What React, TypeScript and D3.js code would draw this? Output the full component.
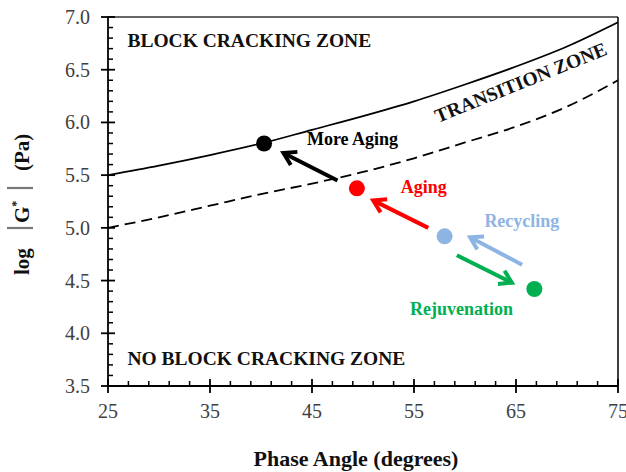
import React from "react";
import * as d3 from "d3";

const upperX = [25, 30, 35, 40, 45, 50, 55, 60, 65, 70, 75];
const upperY = [5.5, 5.59, 5.69, 5.8, 5.93, 6.06, 6.2, 6.36, 6.53, 6.72, 6.95];
const lowerX = [25, 30, 35, 40, 45, 50, 55, 60, 65, 70, 75];
const lowerY = [5.0, 5.1, 5.21, 5.32, 5.42, 5.53, 5.66, 5.81, 5.96, 6.15, 6.4];

const pointNames = ["More Aging", "Aging", "Recycling", "Rejuvenation"];
const pointX = [40.3, 49.4, 58.0, 66.8];
const pointY = [5.8, 5.375, 4.92, 4.42];
const pointColors = ["#000000", "#FF0000", "#8EB4E3", "#00B050"];

const arrowX1 = [47.5, 56.4, 65.6, 59.2];
const arrowY1 = [5.45, 5.0, 4.65, 4.74];
const arrowX2 = [42.2, 51.0, 60.5, 64.6];
const arrowY2 = [5.71, 5.26, 4.91, 4.48];

const labelX = [44.5, 53.7, 61.9, 54.6];
const labelY = [5.79, 5.33, 5.01, 4.17];

const xTicks = [25, 35, 45, 55, 65, 75];
const yTicks = [3.5, 4.0, 4.5, 5.0, 5.5, 6.0, 6.5, 7.0];

const W = 626;
const H = 472;
const M = { left: 108, right: 618, top: 17, bottom: 386 };
const FONT = "'Liberation Serif', 'Times New Roman', serif";

export default function App() {
  const x = d3.scaleLinear().domain([25, 75]).range([M.left, M.right]);
  const y = d3.scaleLinear().domain([3.5, 7.0]).range([M.bottom, M.top]);
  const line = d3
    .line<[number, number]>()
    .x((d) => x(d[0]))
    .y((d) => y(d[1]))
    .curve(d3.curveMonotoneX);
  const upper = line(upperX.map((v, i) => [v, upperY[i]]) as [number, number][]) || "";
  const lower = line(lowerX.map((v, i) => [v, lowerY[i]]) as [number, number][]) || "";

  const xMinor = d3.range(25, 75.001, 2).filter((v) => !xTicks.includes(v));
  const yMinor = d3
    .range(35, 70.001, 1)
    .map((v) => v / 10)
    .filter((v) => !yTicks.some((t) => Math.abs(t - v) < 1e-6));

  const fmt = d3.format(".1f");
  const lblX = 29;

  return (
    <svg
      width={W}
      height={H}
      style={{ position: "absolute", left: 0, top: 0, background: "#fff" }}
      fontFamily={FONT}
    >
      <rect x={0} y={0} width={W} height={H} fill="#fff" />
      <defs>
        <clipPath id="plotclip">
          <rect x={M.left} y={M.top} width={M.right - M.left} height={M.bottom - M.top} />
        </clipPath>
      </defs>
      {/* frame */}
      <line x1={M.left} x2={M.right} y1={M.top} y2={M.top} stroke="#666" strokeWidth={2} />
      <line x1={M.right} x2={M.right} y1={M.top} y2={M.bottom} stroke="#000" strokeWidth={1.5} />
      <line x1={M.left} x2={M.left} y1={M.top} y2={M.bottom} stroke="#000" strokeWidth={1.8} />
      <line x1={M.left} x2={M.right} y1={M.bottom} y2={M.bottom} stroke="#000" strokeWidth={1.8} />

      {/* y ticks */}
      {yTicks.map((t) => (
        <g key={"yt" + t}>
          <line x1={M.left - 7} x2={M.left + 7} y1={y(t)} y2={y(t)} stroke="#000" strokeWidth={1.8} />
          <text x={M.left - 18} y={y(t) + 7} textAnchor="end" fontSize={20} fill="#404040">
            {fmt(t)}
          </text>
        </g>
      ))}
      {yMinor.map((t) => (
        <line key={"ym" + t} x1={M.left} x2={M.left + 5} y1={y(t)} y2={y(t)} stroke="#000" strokeWidth={1.5} />
      ))}
      {/* x ticks */}
      {xTicks.map((t) => (
        <g key={"xt" + t}>
          <line x1={x(t)} x2={x(t)} y1={M.bottom - 7} y2={M.bottom + 7} stroke="#000" strokeWidth={1.8} />
          <text x={x(t)} y={M.bottom + 32} textAnchor="middle" fontSize={20} fill="#404040">
            {t}
          </text>
        </g>
      ))}
      {xMinor.map((t) => (
        <line key={"xm" + t} x1={x(t)} x2={x(t)} y1={M.bottom - 5} y2={M.bottom} stroke="#000" strokeWidth={1.5} />
      ))}

      {/* boundary curves */}
      <g clipPath="url(#plotclip)">
        <path d={upper} fill="none" stroke="#000" strokeWidth={1.7} />
        <path d={lower} fill="none" stroke="#000" strokeWidth={1.8} strokeDasharray="11,6" />
      </g>

      {/* zone labels */}
      <text x={x(26.9)} y={y(6.715)} fontSize={19.5} fontWeight="bold" fill="#111">
        BLOCK CRACKING ZONE
      </text>
      <text x={x(26.9)} y={y(3.7)} fontSize={19.5} fontWeight="bold" fill="#111">
        NO BLOCK CRACKING ZONE
      </text>
      <text
        x={x(57.35)}
        y={y(5.995)}
        fontSize={19.5}
        fontWeight="bold"
        fill="#111"
        transform={`rotate(-22 ${x(57.35)} ${y(5.995)})`}
      >
        TRANSITION ZONE
      </text>

      {/* arrows */}
      {arrowX1.map((_, i) => {
        const x1 = x(arrowX1[i]);
        const y1 = y(arrowY1[i]);
        const x2 = x(arrowX2[i]);
        const y2 = y(arrowY2[i]);
        const ang = Math.atan2(y2 - y1, x2 - x1);
        const L = 14;
        const a1 = ang + Math.PI - 0.55;
        const a2 = ang + Math.PI + 0.55;
        const p1 = [x2 + L * Math.cos(a1), y2 + L * Math.sin(a1)];
        const p2 = [x2 + L * Math.cos(a2), y2 + L * Math.sin(a2)];
        return (
          <g key={"ar" + i} stroke={pointColors[i]} strokeWidth={4} fill="none" strokeLinecap="butt">
            <line x1={x1} y1={y1} x2={x2 - Math.cos(ang)} y2={y2 - Math.sin(ang)} />
            <polyline points={`${p1[0]},${p1[1]} ${x2},${y2} ${p2[0]},${p2[1]}`} strokeLinejoin="miter" />
          </g>
        );
      })}

      {/* points */}
      {pointX.map((v, i) => (
        <circle key={"pt" + i} cx={x(v)} cy={y(pointY[i])} r={8} fill={pointColors[i]} />
      ))}

      {/* point labels */}
      {pointNames.map((n, i) => (
        <text key={"lb" + i} x={x(labelX[i])} y={y(labelY[i])} fontSize={18} fontWeight="bold" fill={pointColors[i]}>
          {n}
        </text>
      ))}

      {/* axis titles */}
      <text x={(M.left + M.right) / 2 - 7} y={466} textAnchor="middle" fontSize={22} fontWeight="bold" fill="#111">
        Phase Angle (degrees)
      </text>
      <g fontSize={21} fontWeight="bold" fill="#111">
        <text transform={`translate(${lblX}, 275) rotate(-90)`}>log</text>
        <text transform={`translate(${lblX}, 223) rotate(-90)`}>
          G<tspan fontSize={12} dy={-9}>*</tspan>
        </text>
        <text transform={`translate(${lblX}, 171) rotate(-90)`}>(Pa)</text>
      </g>
      <line x1={7} x2={33} y1={228} y2={228} stroke="#777" strokeWidth={2.2} />
      <line x1={7} x2={33} y1={188} y2={188} stroke="#777" strokeWidth={2.2} />
    </svg>
  );
}
